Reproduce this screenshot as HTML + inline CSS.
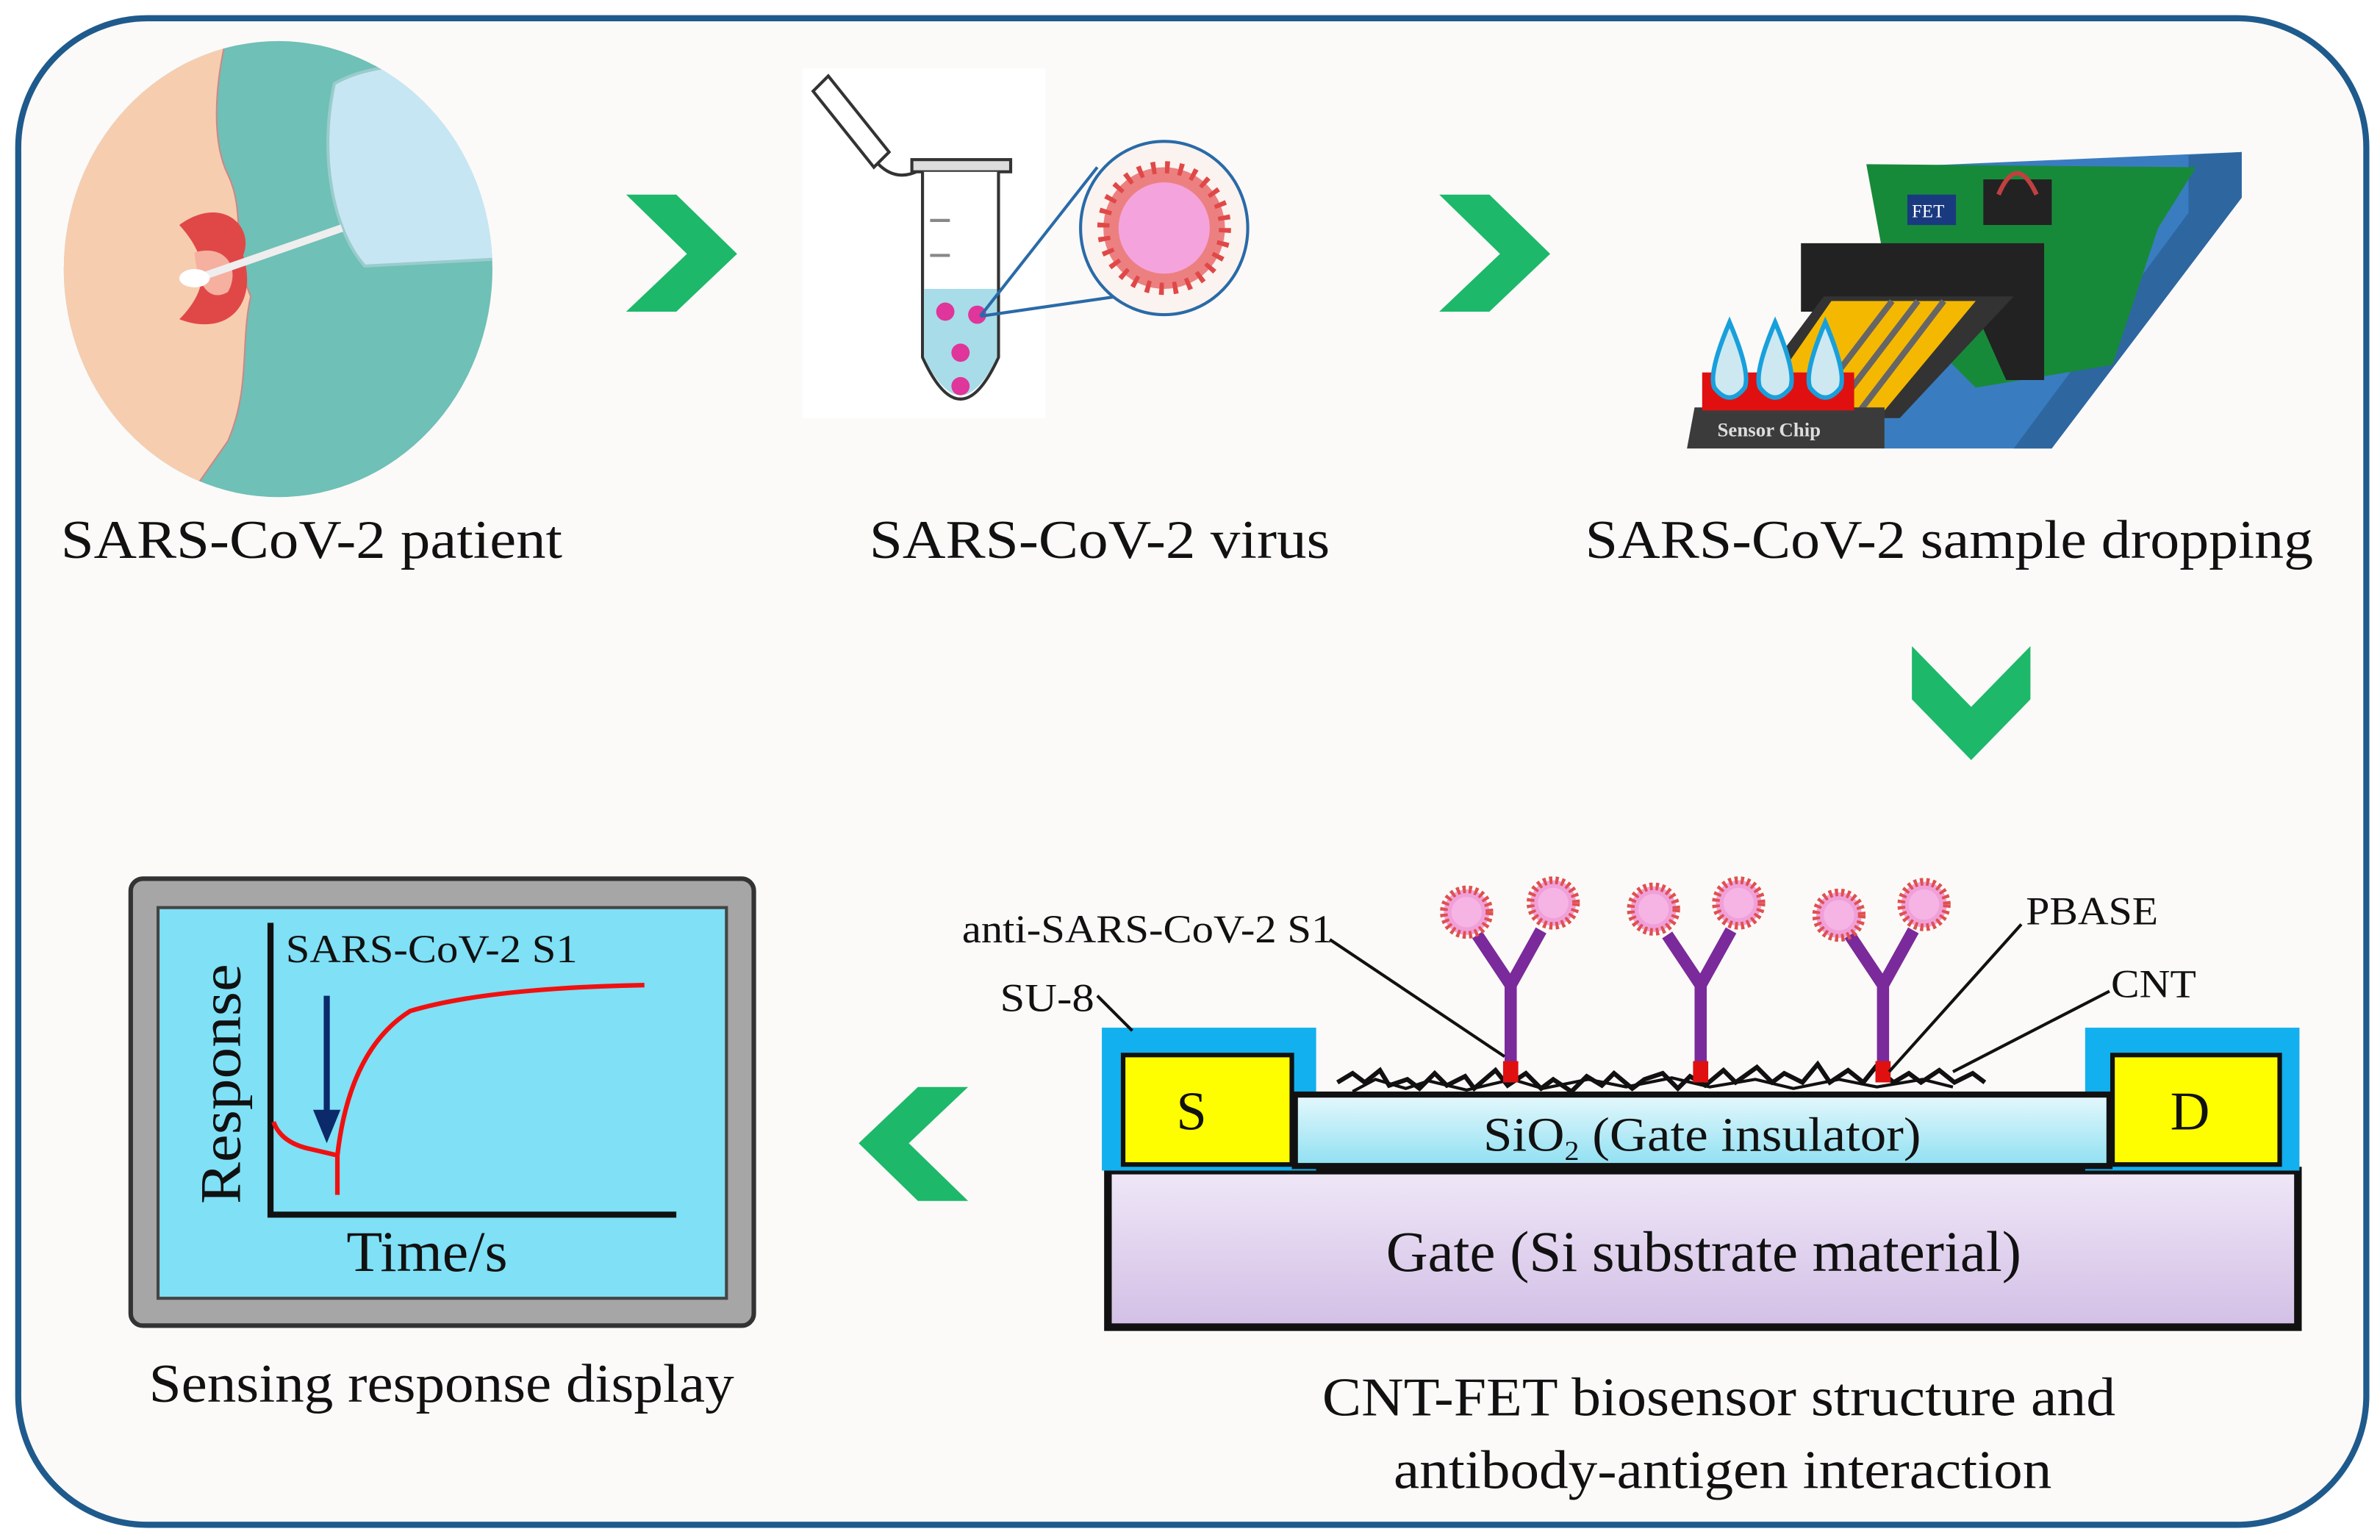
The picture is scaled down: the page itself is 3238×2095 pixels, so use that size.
<!DOCTYPE html>
<html><head><meta charset="utf-8"><style>
html,body{margin:0;padding:0;background:#fff;}
svg{display:block;}
text{font-family:"Liberation Serif",serif;fill:#111;}
</style></head><body>
<svg width="3238" height="2095" viewBox="0 0 1566 1013" preserveAspectRatio="none" xmlns="http://www.w3.org/2000/svg">
<defs>
<linearGradient id="sio" x1="0" y1="0" x2="0" y2="1"><stop offset="0" stop-color="#e6f8fc"/><stop offset="1" stop-color="#8fe0f2"/></linearGradient>
<linearGradient id="gate" x1="0" y1="0" x2="0" y2="1"><stop offset="0" stop-color="#efe7f7"/><stop offset="1" stop-color="#d3bfe6"/></linearGradient>
<g id="vir"><circle r="15" fill="#f0a0d8" stroke="#e05050" stroke-width="5" stroke-dasharray="2 2"/><circle r="10" fill="#f6b4e4"/></g>
<g id="ab"><path d="M0,0 V-62 L-22,-95 M0,-62 L20,-98" stroke="#7a2a9a" stroke-width="8" fill="none"/><rect x="-5" y="-12" width="10" height="14" fill="#e01010"/></g>
</defs>
<rect width="1566" height="1013" fill="#fff"/>
<rect x="12" y="12" width="1545" height="991" rx="85" fill="#fbfaf8" stroke="#1f5a8c" stroke-width="4"/>

<!-- patient -->
<clipPath id="pc"><ellipse cx="183" cy="177" rx="141" ry="150"/></clipPath>
<ellipse cx="183" cy="177" rx="141" ry="150" fill="#6fc0b6"/>
<g clip-path="url(#pc)">
<path d="M30,20 H150 C140,60 140,95 150,115 C162,140 152,165 165,195 C158,225 165,255 150,290 L115,340 H20 Z" fill="#f7cdb0" stroke="#c88" stroke-width="1"/>
<path d="M118,148 C145,128 168,148 160,168 C170,200 150,222 118,210 C138,190 138,170 118,148Z" fill="#e04848"/>
<path d="M128,166 C150,160 158,178 150,192 C140,198 130,192 128,166Z" fill="#f6b0a0"/>
<path d="M220,55 C255,35 320,40 335,80 L335,170 L240,175 C218,150 210,100 220,55Z" fill="#c7e6f4" stroke="#9cc" stroke-width="2"/>
<line x1="130" y1="183" x2="225" y2="150" stroke="#eee" stroke-width="5"/>
<ellipse cx="128" cy="183" rx="10" ry="6" fill="#fff"/>
</g>

<!-- chevrons -->
<g fill="#1db86a">
<polygon points="412,128 445,128 485,167 445,205 412,205 452,167"/>
<polygon points="947,128 980,128 1020,167 980,205 947,205 987,167"/>
<polygon points="1258,425 1258,460 1297,500 1336,460 1336,425 1297,465"/>
<polygon points="637,715 604,715 565,752 604,790 637,790 598,752"/>
</g>

<!-- tube -->
<rect x="528" y="45" width="160" height="230" fill="#fff"/>
<path d="M535,60 L545,50 L585,100 L575,110 Z" fill="none" stroke="#333" stroke-width="2"/>
<path d="M578,108 Q590,120 605,112" fill="none" stroke="#333" stroke-width="2"/>
<rect x="600" y="105" width="65" height="8" fill="#ddd" stroke="#333" stroke-width="2"/>
<path d="M607,113 V235 Q632,290 657,235 V113" fill="#fff" stroke="#333" stroke-width="2"/>
<path d="M608,190 H656 V235 Q632,285 608,235Z" fill="#a8dce8"/>
<line x1="612" y1="145" x2="625" y2="145" stroke="#888" stroke-width="2"/><line x1="612" y1="168" x2="625" y2="168" stroke="#888" stroke-width="2"/>
<g fill="#e0359a"><circle cx="622" cy="205" r="6"/><circle cx="643" cy="207" r="6"/><circle cx="632" cy="232" r="6"/><circle cx="632" cy="254" r="6"/></g>
<line x1="645" y1="208" x2="735" y2="195" stroke="#2a6aa8" stroke-width="2"/>
<line x1="645" y1="208" x2="722" y2="110" stroke="#2a6aa8" stroke-width="2"/>
<ellipse cx="766" cy="150" rx="55" ry="57" fill="#fbf3ef" stroke="#2a6aa8" stroke-width="2"/>
<circle cx="766" cy="150" r="40" fill="#ec8080" stroke="#e04848" stroke-width="8" stroke-dasharray="3 6"/>
<circle cx="766" cy="150" r="30" fill="#f5a3dc"/>

<!-- chip -->
<polygon points="1240,110 1475,100 1475,130 1350,295 1240,295" fill="#3a7cc0"/>
<polygon points="1440,102 1475,100 1475,130 1350,295 1325,295 1440,140" fill="#2e66a0"/>
<polygon points="1228,108 1445,110 1420,150 1390,240 1300,255 1245,200" fill="#178a3a"/>
<rect x="1255" y="128" width="32" height="20" fill="#1a3a80"/><text x="1258" y="143" font-family="Liberation Sans,sans-serif" font-size="12" style="fill:#fff">FET</text>
<rect x="1305" y="118" width="45" height="30" fill="#222"/><path d="M1315,128 Q1327,100 1340,128" stroke="#c04040" stroke-width="3" fill="none"/>
<polygon points="1185,160 1345,160 1345,250 1320,250 1300,205 1185,205" fill="#222"/>
<polygon points="1200,195 1325,195 1250,275 1140,275" fill="#333"/>
<polygon points="1205,198 1300,198 1240,270 1155,270" fill="#f5b800"/>
<g stroke="#666" stroke-width="4"><line x1="1245" y1="198" x2="1190" y2="270"/><line x1="1262" y1="198" x2="1207" y2="270"/><line x1="1279" y1="198" x2="1224" y2="270"/></g>
<polygon points="1115,268 1240,268 1240,295 1110,295" fill="#3b3b3b"/>
<rect x="1120" y="245" width="100" height="25" fill="#e01010"/>
<text x="1130" y="287" font-family="Liberation Sans,sans-serif" font-size="13" font-weight="bold" style="fill:#ddd">Sensor Chip</text>
<g fill="#cde8f0" stroke="#18a0dc" stroke-width="3">
<path d="M1138,212 Q1152,245 1148,255 Q1138,268 1128,255 Q1124,245 1138,212Z"/>
<path d="M1168,212 Q1182,245 1178,255 Q1168,268 1158,255 Q1154,245 1168,212Z"/>
<path d="M1201,212 Q1215,245 1211,255 Q1201,268 1191,255 Q1187,245 1201,212Z"/>
</g>

<!-- top labels -->
<g font-size="36">
<text x="40" y="367" textLength="330" lengthAdjust="spacingAndGlyphs">SARS-CoV-2 patient</text>
<text x="572" y="367" textLength="303" lengthAdjust="spacingAndGlyphs">SARS-CoV-2 virus</text>
<text x="1043" y="367" textLength="479" lengthAdjust="spacingAndGlyphs">SARS-CoV-2 sample dropping</text>
</g>

<!-- monitor -->
<rect x="86" y="578" width="410" height="294" rx="8" fill="#a6a6a6" stroke="#333" stroke-width="3"/>
<rect x="104" y="597" width="374" height="257" fill="#7fe0f6" stroke="#444" stroke-width="2"/>
<path d="M178,607 V799 H445" fill="none" stroke="#111" stroke-width="4"/>
<path d="M180,738 Q185,752 205,756 L222,760 V786 M222,760 Q230,690 270,665 Q320,650 424,648" fill="none" stroke="#f01010" stroke-width="3"/>
<line x1="215" y1="655" x2="215" y2="735" stroke="#0c2a6a" stroke-width="4"/>
<polygon points="206,730 224,730 215,752" fill="#0c2a6a"/>
<text x="188" y="633" font-size="26" textLength="192" lengthAdjust="spacingAndGlyphs">SARS-CoV-2 S1</text>
<text transform="translate(158,792) rotate(-90)" font-size="38" textLength="158" lengthAdjust="spacingAndGlyphs">Response</text>
<text x="228" y="836" font-size="38" textLength="106" lengthAdjust="spacingAndGlyphs">Time/s</text>
<text x="98" y="922" font-size="36" textLength="385" lengthAdjust="spacingAndGlyphs">Sensing response display</text>

<!-- FET -->
<rect x="729" y="770" width="783" height="103" fill="url(#gate)" stroke="#111" stroke-width="5"/>
<rect x="725" y="676" width="141" height="94" fill="#12b0ee"/>
<rect x="1372" y="676" width="141" height="94" fill="#12b0ee"/>
<rect x="852" y="720" width="536" height="47" fill="url(#sio)" stroke="#111" stroke-width="4"/>
<rect x="739" y="694" width="111" height="72" fill="#fefe00" stroke="#111" stroke-width="3"/>
<rect x="1390" y="694" width="110" height="72" fill="#fefe00" stroke="#111" stroke-width="3"/>
<text x="774" y="743" font-size="36">S</text>
<text x="1428" y="743" font-size="36">D</text>
<text x="976" y="757" font-size="32" textLength="288" lengthAdjust="spacingAndGlyphs">SiO<tspan font-size="18" dy="6">2</tspan><tspan dy="-6"> (Gate insulator)</tspan></text>
<text x="912" y="836" font-size="38" textLength="418" lengthAdjust="spacingAndGlyphs">Gate (Si substrate material)</text>
<path d="M880,712 l10,-6 l8,6 l10,-8 l6,10 l12,-4 l8,6 l10,-10 l8,8 l12,-6 l6,8 l14,-12 l8,10 l12,-8 l10,10 l8,-6 l12,8 l10,-10 l10,6 l8,-8 l12,10 l8,-6 l12,-4 l10,10 l8,-8 l10,6 l12,-10 l8,8 l14,-10 l10,10 l8,-6 l12,6 l10,-12 l8,12 l12,-8 l10,8 l8,-10 l12,10 l10,-6 l8,6 l12,-8 l10,8 l12,-6 l8,6" fill="none" stroke="#111" stroke-width="3"/>
<path d="M890,718 l15,-8 l20,6 l15,-5 l25,6 l30,-7 l20,6 l30,-6 l25,5 l30,-6 l25,6 l30,-5 l25,6 l30,-6 l25,5 l30,-5 l20,5" fill="none" stroke="#111" stroke-width="2"/>
<use href="#ab" x="994" y="710"/><use href="#ab" x="1119" y="710"/><use href="#ab" x="1239" y="710"/>
<use href="#vir" x="965" y="600"/><use href="#vir" x="1022" y="594"/>
<use href="#vir" x="1088" y="598"/><use href="#vir" x="1144" y="594"/>
<use href="#vir" x="1210" y="602"/><use href="#vir" x="1266" y="595"/>
<g stroke="#111" stroke-width="2" fill="none">
<line x1="875" y1="618" x2="990" y2="695"/>
<line x1="1330" y1="608" x2="1243" y2="705"/>
<line x1="1388" y1="652" x2="1285" y2="705"/>
<line x1="722" y1="655" x2="745" y2="678"/>
</g>
<g font-size="26">
<text x="633" y="620" textLength="244" lengthAdjust="spacingAndGlyphs">anti-SARS-CoV-2 S1</text>
<text x="658" y="665" textLength="62" lengthAdjust="spacingAndGlyphs">SU-8</text>
<text x="1333" y="608" textLength="87" lengthAdjust="spacingAndGlyphs">PBASE</text>
<text x="1389" y="656" textLength="56" lengthAdjust="spacingAndGlyphs">CNT</text>
</g>
<text x="870" y="931" font-size="36" textLength="522" lengthAdjust="spacingAndGlyphs">CNT-FET biosensor structure and</text>
<text x="917" y="979" font-size="36" textLength="433" lengthAdjust="spacingAndGlyphs">antibody-antigen interaction</text>
</svg>
</body></html>
